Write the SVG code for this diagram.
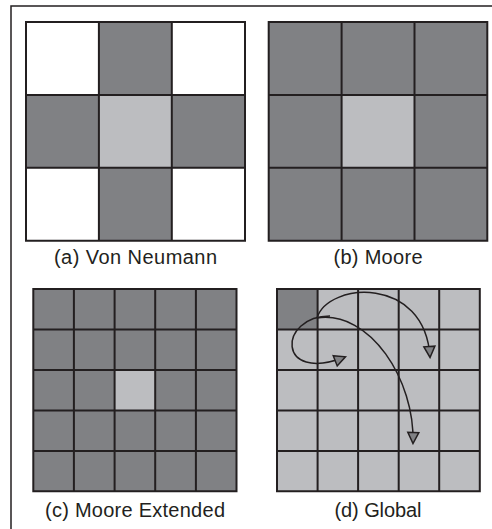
<svg xmlns="http://www.w3.org/2000/svg" width="492" height="529" viewBox="0 0 492 529">
<style>
.dk{fill:#808184}
.lt{fill:#bcbdc0}
.gl{fill:none;stroke:#231f20;stroke-width:2}
.lbl{font-family:"Liberation Sans",Arial,sans-serif;font-size:20px;fill:#231f20;text-anchor:middle}
.conn{fill:none;stroke:#231f20;stroke-width:1.5}
</style>
<defs>
<marker id="ah" viewBox="0 0 14 14" refX="12" refY="7" markerWidth="14" markerHeight="14" markerUnits="userSpaceOnUse" orient="auto">
<path d="M1.5,1.5 L12.5,7 L1.5,12.5 Z" fill="#808184" stroke="#231f20" stroke-width="1.5" stroke-linejoin="miter"/>
</marker>
</defs>
<rect x="0" y="0" width="492" height="529" fill="#fff"/>
<rect id="frame" x="11" y="6" width="520" height="560" fill="none" stroke="#231f20" stroke-width="1.5"/>

<g id="grid-a">
<rect x="26" y="22" width="219" height="218.7" fill="#fff"/>
<rect class="dk" x="98.9" y="22" width="72.9" height="72.9"/>
<rect class="dk" x="26" y="94.9" width="72.9" height="72.9"/>
<rect class="lt" x="98.9" y="94.9" width="72.9" height="72.9"/>
<rect class="dk" x="171.8" y="94.9" width="73.2" height="72.9"/>
<rect class="dk" x="98.9" y="167.8" width="72.9" height="72.9"/>
<path class="gl" d="M26,22H245V240.7H26Z M98.9,22V240.7 M171.8,22V240.7 M26,94.9H245 M26,167.8H245"/>
<text class="lbl" x="135.5" y="264" textLength="163" lengthAdjust="spacing">(a) Von Neumann</text>
</g>

<g id="grid-b">
<rect class="dk" x="268.7" y="22" width="218.6" height="218.7"/>
<rect class="lt" x="341.6" y="94.9" width="72.9" height="72.9"/>
<path class="gl" d="M268.7,22H487.3V240.7H268.7Z M341.6,22V240.7 M414.5,22V240.7 M268.7,94.9H487.3 M268.7,167.8H487.3"/>
<text class="lbl" x="378" y="264" textLength="89" lengthAdjust="spacing">(b) Moore</text>
</g>

<g id="grid-c">
<rect class="dk" x="33.3" y="289" width="203.2" height="202.3"/>
<rect class="lt" x="114.6" y="370" width="40.6" height="40.4"/>
<path class="gl" d="M33.3,289H236.5V491.3H33.3Z M73.9,289V491.3 M114.6,289V491.3 M155.2,289V491.3 M195.9,289V491.3 M33.3,329.5H236.5 M33.3,370H236.5 M33.3,410.4H236.5 M33.3,450.9H236.5"/>
<text class="lbl" x="135" y="516.5" textLength="180" lengthAdjust="spacing">(c) Moore Extended</text>
</g>

<g id="grid-d">
<rect class="lt" x="277" y="289" width="202.8" height="202.3"/>
<rect class="dk" x="277" y="289" width="40.6" height="40.5"/>
<path class="gl" d="M277,289H479.8V491.3H277Z M317.6,289V491.3 M358.1,289V491.3 M398.7,289V491.3 M439.2,289V491.3 M277,329.5H479.8 M277,370H479.8 M277,410.4H479.8 M277,450.9H479.8"/>
<text class="lbl" x="378" y="516.5" textLength="87" lengthAdjust="spacing">(d) Global</text>
</g>

<g id="connectors">
<path class="conn" marker-end="url(#ah)" d="M317,318 C328,282 425,275 430,357"/>
<path class="conn" marker-end="url(#ah)" d="M317,318 C370,310 415,380 413,443"/>
<path class="conn" marker-end="url(#ah)" d="M330,316 C278,316 276,384 345,357"/>
</g>
</svg>
